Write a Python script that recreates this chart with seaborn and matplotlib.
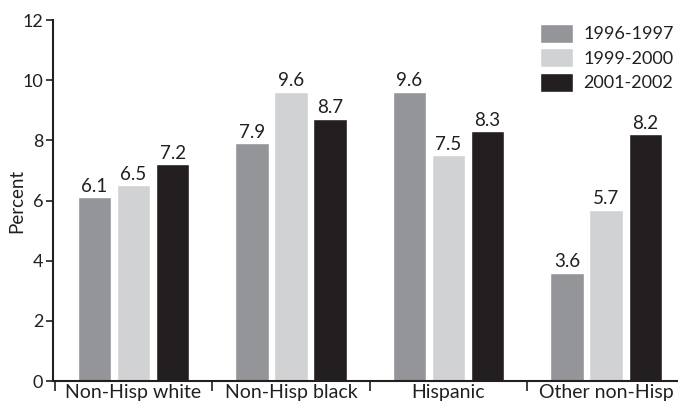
import matplotlib
matplotlib.use("Agg")
import matplotlib.pyplot as plt
import seaborn as sns
import pandas as pd
import numpy as np

categories = ["Non-Hisp white", "Non-Hisp black", "Hispanic", "Other non-Hisp"]
periods = ["1996-1997", "1999-2000", "2001-2002"]
v_1996_1997 = [6.1, 7.9, 9.6, 3.6]
v_1999_2000 = [6.5, 9.6, 7.5, 5.7]
v_2001_2002 = [7.2, 8.7, 8.3, 8.2]
colors = ["#939598", "#d1d2d4", "#231f20"]

df = pd.DataFrame({
    "group": categories * 3,
    "period": [p for p in periods for _ in categories],
    "value": v_1996_1997 + v_1999_2000 + v_2001_2002,
})

sns.set_theme(style="white")
plt.rcParams["font.family"] = ["Lato", "DejaVu Sans"]
plt.rcParams["text.color"] = "#231f20"

fig = plt.figure(figsize=(6.78, 4.07), dpi=100)
ax = fig.add_axes([53/678, 1 - 381/407, (678-53)/678, (381-20)/407])

sns.barplot(data=df, x="group", y="value", hue="period", order=categories,
            hue_order=periods, palette=colors, width=0.745, gap=0.15,
            saturation=1, ax=ax, legend=True)

for cont in ax.containers:
    ax.bar_label(cont, fmt="%.1f", padding=2, fontsize=13.5, color="#231f20")

ax.set_ylim(0, 12)
ax.set_yticks([0, 2, 4, 6, 8, 10, 12])
ax.set_xlim(-0.511, 3.457)
ax.set_ylabel("Percent", fontsize=13.5, color="#231f20")
ax.yaxis.set_label_coords(-0.044, 0.5)
ax.set_xlabel("")

for s in ["top", "right"]:
    ax.spines[s].set_visible(False)
for s in ["left", "bottom"]:
    ax.spines[s].set_color("#231f20")
    ax.spines[s].set_linewidth(1.5)

ax.tick_params(axis="y", direction="out", length=5, width=1.2, color="#231f20",
               labelsize=13, labelcolor="#231f20", pad=2, left=True)
ax.tick_params(axis="x", which="major", length=0, labelsize=14,
               labelcolor="#231f20", pad=2)
ax.set_xticks([-0.5, 0.5, 1.5, 2.5], minor=True)
ax.tick_params(axis="x", which="minor", direction="out", length=7, width=1.2,
               color="#231f20", bottom=True)

leg = ax.legend(loc="upper right", bbox_to_anchor=(1.005, 1.01), frameon=False,
                fontsize=13, handlelength=1.8, handleheight=1.25,
                handletextpad=0.6, labelspacing=0.3, borderaxespad=0)
for t in leg.get_texts():
    t.set_color("#231f20")

fig.savefig("out.png", dpi=100)
